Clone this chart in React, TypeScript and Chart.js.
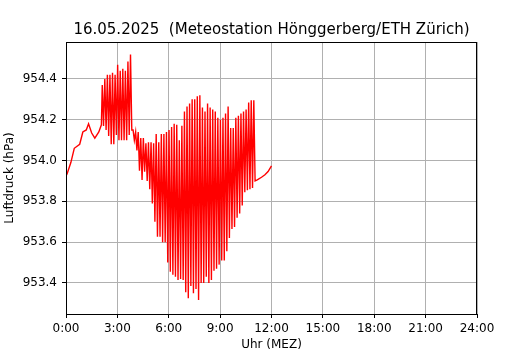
import React, { useEffect, useRef } from "react";
import { Chart, registerables } from "chart.js";

Chart.register(...registerables);

const TITLE = "16.05.2025  (Meteostation Hönggerberg/ETH Zürich)";
const X_LABEL = "Uhr (MEZ)";
const Y_LABEL = "Luftdruck (hPa)";
const FONT = "'DejaVu Sans', sans-serif";

const xTicks = [0, 3, 6, 9, 12, 15, 18, 21, 24];
const yTicks = [953.4, 953.6, 953.8, 954.0, 954.2, 954.4];
const X_MIN = 0;
const X_MAX = 24;
const Y_MIN = 953.248;
const Y_MAX = 954.581;

// 00:00 - 02:05 (minutes, hPa)
const morningMin = [0, 4, 17, 29, 48, 59, 71, 79, 90, 101, 115, 124];
const morningVal = [953.925, 953.935, 953.99, 954.06, 954.08, 954.14, 954.15, 954.18, 954.135, 954.11, 954.14, 954.175];

// 02:07 - 11:03, samples alternate between high and low readings
const spikeStartMin = 127;
const spikeStepMin = 4.5;
const spikeVal = [
  954.37, 954.17, 954.40, 954.15, 954.42, 954.12, 954.42, 954.08, 954.43, 954.08,
  954.42, 954.125, 954.47, 954.10, 954.44, 954.10, 954.45, 954.10, 954.44, 954.10,
  954.485, 954.125, 954.52, 954.15, 954.15, 954.10, 954.14, 954.05, 954.14, 953.95,
  954.11, 953.905, 954.11, 953.945, 954.085, 953.90, 954.09, 953.86, 954.09, 953.79,
  954.085, 953.70, 954.13, 953.627, 954.09, 953.627, 954.13, 953.60, 954.13, 953.60,
  954.14, 953.50, 954.15, 953.455, 954.165, 953.44, 954.18, 953.43, 954.175, 953.415,
  954.10, 953.42, 954.17, 953.415, 954.24, 953.355, 954.265, 953.325, 954.28, 953.385,
  954.30, 953.35, 954.30, 953.37, 954.315, 953.317, 954.32, 953.40, 954.26, 953.40,
  954.24, 953.43, 954.28, 953.40, 954.26, 953.415, 954.25, 953.46, 954.24, 953.47,
  954.21, 953.49, 954.20, 953.51, 954.21, 953.51, 954.23, 953.555, 954.265, 953.62,
  954.16, 953.665, 954.16, 953.675, 954.21, 953.72, 954.22, 953.74, 954.23, 953.78,
  954.24, 953.845, 954.25, 953.855, 954.285, 953.86, 954.295, 953.865, 954.295, 953.90,
];

// 11:10 - 12:00
const noonMin = [670, 685, 697, 708, 720];
const noonVal = [953.905, 953.918, 953.93, 953.946, 953.974];

export default function App() {
  const ref = useRef<HTMLCanvasElement | null>(null);

  useEffect(() => {
    document.body.style.margin = "0";
    const pts: { x: number; y: number }[] = [];
    morningMin.forEach((m, i) => pts.push({ x: m / 60, y: morningVal[i] }));
    spikeVal.forEach((v, i) => pts.push({ x: (spikeStartMin + i * spikeStepMin) / 60, y: v }));
    noonMin.forEach((m, i) => pts.push({ x: m / 60, y: noonVal[i] }));

    const frame = {
      id: "frame",
      afterDraw(chart: any) {
        const { ctx, chartArea } = chart;
        const { left, right, top, bottom } = chartArea;
        ctx.save();
        ctx.strokeStyle = "#000";
        ctx.lineWidth = 1;
        ctx.strokeRect(left + 0.5, top + 0.5, right - left - 1, bottom - top);
        ctx.fillStyle = "#000";
        ctx.textAlign = "center";
        ctx.textBaseline = "alphabetic";
        ctx.font = `15px ${FONT}`;
        const cx = (left + right) / 2;
        ctx.fillText(TITLE, cx, 34);
        ctx.font = `12px ${FONT}`;
        ctx.fillText(X_LABEL, cx, 348);
        ctx.translate(9, (top + bottom) / 2);
        ctx.rotate(-Math.PI / 2);
        ctx.textBaseline = "alphabetic";
        ctx.fillText(Y_LABEL, 0, 4);
        ctx.restore();
      },
    };

    const chart = new Chart(ref.current as HTMLCanvasElement, {
      type: "line",
      data: {
        datasets: [
          {
            data: pts,
            borderColor: "#ff0000",
            borderWidth: 1.4,
            pointRadius: 0,
            tension: 0,
            fill: false,
          },
        ],
      },
      options: {
        animation: false,
        responsive: false,
        devicePixelRatio: 1,
        layout: { padding: { top: 42, right: 53, left: 0, bottom: 0 } },
        plugins: {
          legend: { display: false },
          tooltip: { enabled: false },
          title: { display: false },
        },
        scales: {
          x: {
            type: "linear",
            min: X_MIN,
            max: X_MAX,
            afterFit: (s: any) => {
              s.height = 36;
            },
            afterBuildTicks: (s: any) => {
              s.ticks = xTicks.map((v) => ({ value: v }));
            },
            grid: { color: "#b0b0b0", lineWidth: 1, tickColor: "#000", tickLength: 4 },
            border: { display: false },
            ticks: {
              color: "#000",
              font: { size: 12, family: FONT },
              padding: 4,
              maxRotation: 0,
              autoSkip: false,
              callback: (v: any) => `${v}:00`,
            },
          },
          y: {
            type: "linear",
            min: Y_MIN,
            max: Y_MAX,
            afterFit: (s: any) => {
              s.width = 66;
            },
            afterBuildTicks: (s: any) => {
              s.ticks = yTicks.map((v) => ({ value: v }));
            },
            grid: { color: "#b0b0b0", lineWidth: 1, tickColor: "#000", tickLength: 4 },
            border: { display: false },
            ticks: {
              color: "#000",
              font: { size: 12, family: FONT },
              padding: 5,
              autoSkip: false,
              callback: (v: any) => Number(v).toFixed(1),
            },
          },
        },
      },
      plugins: [frame],
    });
    return () => chart.destroy();
  }, []);

  return <canvas ref={ref} width={530} height={350} style={{ display: "block" }} />;
}
